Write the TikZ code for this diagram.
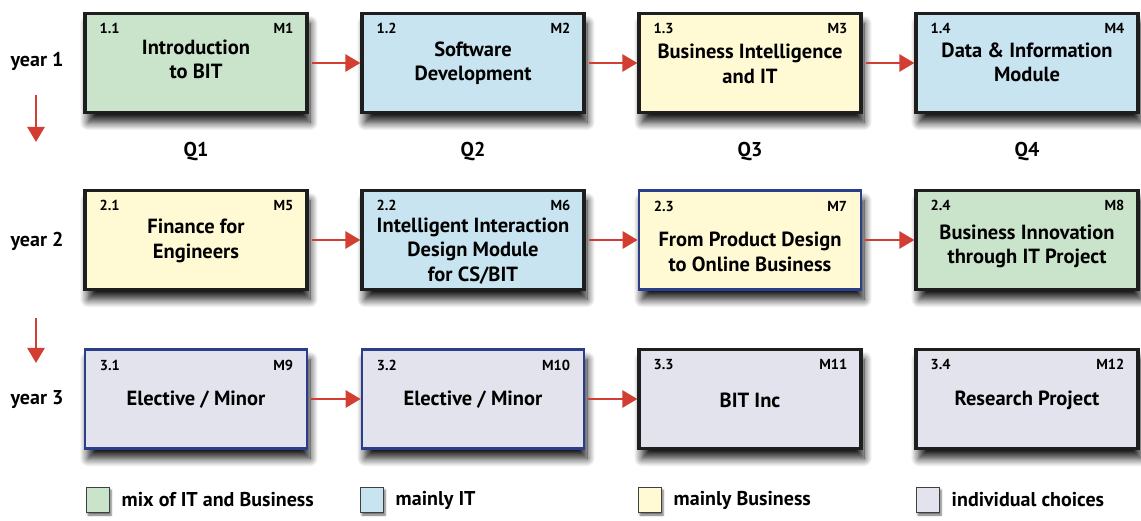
\documentclass[tikz,border=0pt]{standalone}
\usepackage{fontspec}
\setmainfont{PT Sans}
\usetikzlibrary{calc,arrows.meta,shadows.blur}
\definecolor{mixgreen}{RGB}{201,228,202}
\definecolor{itblue}{RGB}{200,228,240}
\definecolor{busyellow}{RGB}{255,250,212}
\definecolor{choicegrey}{RGB}{226,227,236}
\definecolor{framedark}{RGB}{30,30,30}
\definecolor{frameblue}{RGB}{43,62,140}
\definecolor{arrowred}{RGB}{210,62,50}
\tikzstyle{modbox}=[rectangle,minimum width=222pt,minimum height=99pt,draw=framedark,line width=3.2pt,blur shadow={shadow xshift=3pt,shadow yshift=-10pt,shadow blur radius=8pt,shadow blur steps=12,shadow opacity=90}]
\tikzstyle{bluebox}=[draw=frameblue,line width=2.6pt]
\tikzstyle{modtitle}=[align=center,font=\fontsize{20.5}{24.5}\selectfont\bfseries]
\tikzstyle{numlabel}=[inner sep=0pt,font=\fontsize{14.5}{16}\selectfont\bfseries]
\tikzstyle{sidelabel}=[font=\fontsize{20}{22}\selectfont\bfseries]
\tikzstyle{flow}=[arrowred,line width=2.6pt,-{Triangle[length=15pt,width=17pt]}]
\tikzstyle{keybox}=[rectangle,minimum width=23pt,minimum height=25pt,draw=black!75,line width=1.4pt,blur shadow={shadow xshift=1.5pt,shadow yshift=-2.5pt,shadow blur radius=2pt,shadow opacity=60}]
\newcommand{\newmodule}[8][]{
\pgfmathsetmacro{\colx}{196+(#3-1)*277}
\node[modbox,#1] (#2) at (\colx,#4) {};
\node[modtitle] (#2t) at ($(#2.center)+(0,#8)$) {#7};
\node[numlabel,anchor=base west] (#2n) at ($(#2.north west)+(16,-22)$) {#5};
\node[numlabel,anchor=base east] (#2m) at ($(#2.north east)+(-15,-22)$) {#6};
}
\newcommand{\newkey}[4]{
\node[keybox,fill=#2] (#1) at (#3,20) {};
\node[sidelabel,anchor=west] (#1t) at ($(#1.east)+(8,0)$) {#4};
}

\begin{document}
\begin{tikzpicture}[x=1pt,y=1pt]
\useasboundingbox (0,0) rectangle (1141,520);
% year 1
\newmodule[fill=mixgreen]{m11}{1}{457}{1.1}{M1}{Introduction\\to BIT}{3.5}
\newmodule[fill=itblue]{m12}{2}{457}{1.2}{M2}{Software\\Development}{0}
\newmodule[fill=busyellow]{m13}{3}{457}{1.3}{M3}{Business Intelligence\\and IT}{-1}
\newmodule[fill=itblue]{m14}{4}{457}{1.4}{M4}{Data \& Information\\Module}{0.5}
% year 2
\newmodule[fill=busyellow]{m21}{1}{280}{2.1}{M5}{Finance for\\Engineers}{-1}
\newmodule[fill=itblue]{m22}{2}{280}{2.2}{M6}{Intelligent Interaction\\Design Module\\for CS/BIT}{-11}
\newmodule[fill=busyellow,bluebox]{m23}{3}{280}{2.3}{M7}{From Product Design\\to Online Business}{-12}
\newmodule[fill=mixgreen]{m24}{4}{280}{2.4}{M8}{Business Innovation\\through IT Project}{-6.5}
% year 3
\newmodule[fill=choicegrey,bluebox]{m31}{1}{121}{3.1}{M9}{Elective / Minor}{-1}
\newmodule[fill=choicegrey,bluebox]{m32}{2}{121}{3.2}{M10}{Elective / Minor}{-1}
\newmodule[fill=choicegrey]{m33}{3}{121}{3.3}{M11}{BIT Inc}{-1}
\newmodule[fill=choicegrey]{m34}{4}{121}{3.4}{M12}{Research Project}{-1}
% arrows between quarters
\foreach \r in {1,2}
  \foreach \a/\b in {1/2,2/3,3/4}
    \draw[flow] ($(m\r\a.east)+(3,0)$) -- (m\r\b.west);
\foreach \a/\b in {1/2,2/3}
  \draw[flow] ($(m3\a.east)+(3,0)$) -- (m3\b.west);
% years and quarters
\node[sidelabel] (year1) at (37,459) {year 1};
\node[sidelabel] (year2) at (37,279) {year 2};
\node[sidelabel] (year3) at (37,120) {year 3};
\coordinate (down1a) at (36,425);
\coordinate (down1b) at (36,378);
\coordinate (down2a) at (36,202);
\coordinate (down2b) at (36,157);
\draw[flow] (down1a) -- (down1b);
\draw[flow] (down2a) -- (down2b);
\foreach \c in {1,2,3,4}
  \node[sidelabel] (q\c) at ($(m1\c.center)+(0,-89)$) {Q\c};
% legend
\newkey{keymix}{mixgreen}{98}{mix of IT and Business}
\newkey{keyit}{itblue}{372}{mainly IT}
\newkey{keybus}{busyellow}{650}{mainly Business}
\newkey{keyind}{choicegrey}{928}{individual choices}
\end{tikzpicture}
\end{document}
